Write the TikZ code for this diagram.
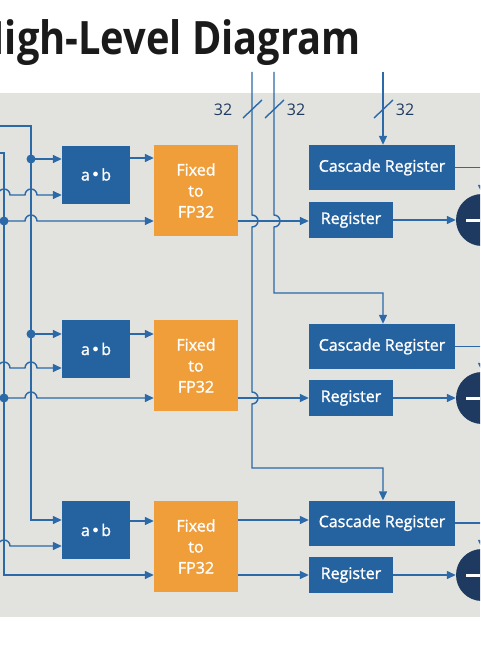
\documentclass[tikz,border=0pt]{standalone}
\usepackage{fontspec}
\setmainfont{Open Sans}
\newfontfamily\labelfont{Open Sans}[FakeBold=1.3]
\usetikzlibrary{arrows.meta}
\definecolor{bg}{HTML}{E2E3DF}
\definecolor{boxblue}{HTML}{2563A0}
\definecolor{lineblue}{HTML}{2B69A8}
\definecolor{orng}{HTML}{F09E3A}
\definecolor{navy}{HTML}{1F3A60}
\definecolor{lbl}{HTML}{1F3A60}
\definecolor{ttl}{HTML}{1A1A1A}
\begin{document}
\begin{tikzpicture}[x=1pt,y=-1pt,
  wire/.style={draw=lineblue,line width=1.4pt},
  arr/.style={wire,-{Triangle[length=9pt,width=8pt]}},
  bluebox/.style={fill=boxblue,text=white,inner sep=0pt,font=\labelfont\fontsize{16}{19}\selectfont},
  abbox/.style={bluebox,minimum width=68pt,minimum height=58pt},
  cascbox/.style={bluebox,minimum width=146pt,minimum height=45pt},
  regbox/.style={bluebox,minimum width=84pt,minimum height=36pt},
  fixbox/.style={fill=orng,text=white,inner sep=0pt,align=center,font=\labelfont\fontsize{16}{21}\selectfont,minimum width=84pt,minimum height=91pt},
  subnode/.style={circle,fill=navy,minimum size=52pt,inner sep=0pt},
  dot/.style={fill=lineblue},
  widthlbl/.style={text=lbl,font=\fontsize{16}{19}\selectfont,inner sep=0pt}
]
\useasboundingbox (0,0) rectangle (480,650);
\clip (0,0) rectangle (480,650);
\fill[bg] (0,93) rectangle (480,617);

\node[anchor=base east,text=ttl,inner sep=0pt,font=\fontsize{46}{50}\selectfont\bfseries] (title) at (361,55) {\scalebox{0.865}[1]{High-Level Diagram}};

% blocks
\node[abbox] (ab1) at (96,174.5) {a\,\raisebox{0.3ex}{\scalebox{0.7}{$\bullet$}}\,b};
\node[abbox] (ab2) at (96,349) {a\,\raisebox{0.3ex}{\scalebox{0.7}{$\bullet$}}\,b};
\node[abbox] (ab3) at (96,530) {a\,\raisebox{0.3ex}{\scalebox{0.7}{$\bullet$}}\,b};
\node[fixbox] (fx1) at (196,190.5) {Fixed\\to\\FP32};
\node[fixbox] (fx2) at (196,365.5) {Fixed\\to\\FP32};
\node[fixbox] (fx3) at (196,546.5) {Fixed\\to\\FP32};
\node[cascbox] (cr1) at (382,167.5) {Cascade Register};
\node[cascbox] (cr2) at (382,346.5) {Cascade Register};
\node[cascbox] (cr3) at (382,523) {Cascade Register};
\node[regbox] (rg1) at (351,220) {Register};
\node[regbox] (rg2) at (351,398) {Register};
\node[regbox] (rg3) at (351,575) {Register};
\node[subnode] (c1) at (482,220) {};
\node[subnode] (c2) at (482,398) {};
\node[subnode] (c3) at (482,575) {};
\foreach \c in {c1,c2,c3} \draw[white,line width=3pt] ([xshift=-16pt]\c.center) -- ([xshift=16pt]\c.center);

% left buses
\coordinate (busA) at (0,126);
\coordinate (busB) at (0,153);
\draw[arr] (busA) -- (31,126) -- (31,520) -- (ab3.west |- 0,520);
\draw[arr] (busB) -- (4,153) -- (4,575) -- (fx3.west |- 0,575);
\fill[dot] (31,159) circle[radius=4.5pt];
\fill[dot] (31,334) circle[radius=4.5pt];
\fill[dot] (4,221) circle[radius=4.5pt];
\fill[dot] (4,398) circle[radius=4.5pt];
\draw[arr] (31,159) -- (ab1.west |- 0,159);
\draw[arr] (31,334) -- (ab2.west |- 0,334);
\draw[arr] (4,221) -- (25,221) arc[start angle=180,end angle=0,radius=6pt] -- (fx1.west |- 0,221);
\draw[arr] (4,398) -- (25,398) arc[start angle=180,end angle=0,radius=6pt] -- (fx2.west |- 0,398);
\coordinate (inb1) at (-10,195);
\coordinate (inb2) at (-10,368);
\coordinate (inb3) at (-10,546);
\draw[arr] (inb1) -- (-2,195) arc[start angle=180,end angle=0,radius=6pt] -- (25,195) arc[start angle=180,end angle=0,radius=6pt] -- (ab1.west |- 0,195);
\draw[arr] (inb2) -- (-2,368) arc[start angle=180,end angle=0,radius=6pt] -- (25,368) arc[start angle=180,end angle=0,radius=6pt] -- (ab2.west |- 0,368);
\draw[arr] (inb3) -- (-2,546) arc[start angle=180,end angle=0,radius=6pt] -- (ab3.west |- 0,546);

% a*b -> fixed
\draw[arr] (ab1.east |- 0,158) -- (fx1.west |- 0,158);
\draw[arr] (ab2.east |- 0,334) -- (fx2.west |- 0,334);
\draw[arr] (ab3.east |- 0,521) -- (fx3.west |- 0,521);

% fixed -> registers
\draw[arr] (fx1.east |- 0,221) -- (rg1.west |- 0,221);
\draw[arr] (fx2.east |- 0,398) -- (rg2.west);
\draw[arr] (fx3.east |- 0,520) -- (cr3.west |- 0,520);
\draw[arr] (fx3.east |- 0,575) -- (rg3.west);

% top buses
\coordinate (topC) at (252,72);
\coordinate (topD) at (274,72);
\coordinate (topE) at (383,72);
\draw[arr] (topC) -- (252,215) arc[start angle=90,end angle=-90,radius=6pt] -- (252,392) arc[start angle=90,end angle=-90,radius=6pt] -- (252,468) -- (383,468) -- (cr3.north -| 383,0);
\draw[arr] (topD) -- (274,215) arc[start angle=90,end angle=-90,radius=6pt] -- (274,293) -- (383,293) -- (cr2.north -| 383,0);
\draw[arr] (topE) -- (cr1.north -| 383,0);
\draw[wire] (243,118) -- (262,100);
\draw[wire] (265,118) -- (284,100);
\draw[wire] (374,118) -- (393,100);
\node[widthlbl] (w1) at (223,110) {32};
\node[widthlbl] (w2) at (296,110) {32};
\node[widthlbl] (w3) at (405,110) {32};

% registers -> subtractors
\draw[arr] (rg1) -- (c1);
\draw[arr] (rg2) -- (c2);
\draw[arr] (rg3) -- (c3);
\draw[arr] (cr1.east) -| (c1.north);
\draw[arr] (cr2.east) -| (c2.north);
\draw[arr] (cr3.east) -| (c3.north);
\end{tikzpicture}
\end{document}
